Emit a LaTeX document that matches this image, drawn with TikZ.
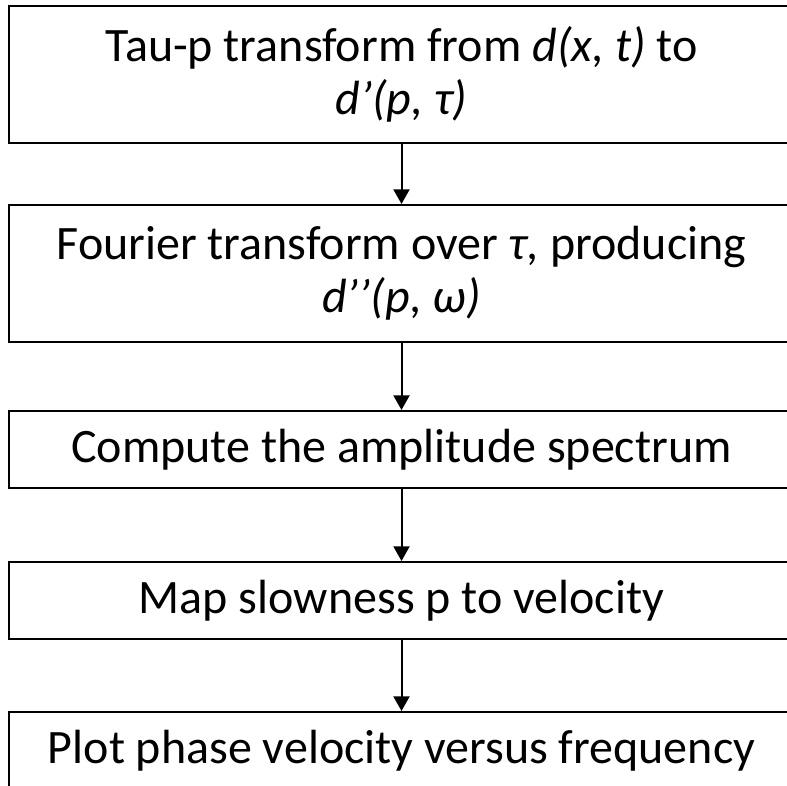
\documentclass[tikz,border=0pt]{standalone}
\usepackage{fontspec}
\setmainfont{Carlito}
\usetikzlibrary{arrows.meta, positioning}

\begin{document}
\begin{tikzpicture}[x=0.75pt, y=-0.75pt, line width=1.5pt]

    % Page frame
    \useasboundingbox (0,0) rectangle (787,785);

    % Nodes for the processing steps
    \node (taup) [draw, rectangle, align=center, minimum height=102.5pt, minimum width=588.75pt, font=\fontsize{36}{40}\selectfont] at (401.5,74.4) {Tau-p transform from \textit{d(x, t)} to\\ \textit{d’(p, τ)}};
    \node (fourier) [draw, rectangle, align=center, minimum height=102.75pt, minimum width=588.75pt, font=\fontsize{36}{40}\selectfont] at (401.5,273.5) {Fourier transform over \textit{τ,} producing\\ \textit{d’’(p, ω)}};
    \node (ampl) [draw, rectangle, align=center, minimum height=57.75pt, minimum width=588.75pt, font=\fontsize{36}{40}\selectfont] at (401.5,449.5) {Compute the amplitude spectrum};
    \node (slow) [draw, rectangle, align=center, minimum height=57.75pt, minimum width=588.75pt, font=\fontsize{36}{40}\selectfont] at (401.5,600.5) {Map slowness p to velocity};
    \node (plot) [draw, rectangle, align=center, minimum height=57.75pt, minimum width=588.75pt, font=\fontsize{36}{40}\selectfont, anchor=north] at (401.5,711) {Plot phase velocity versus frequency};

    % Arrows between the steps
    \draw[-{Triangle[width=12pt, length=11pt]}] (taup) -- (fourier);
    \draw[-{Triangle[width=12pt, length=11pt]}] (fourier) -- (ampl);
    \draw[-{Triangle[width=12pt, length=11pt]}] (ampl) -- (slow);
    \draw[-{Triangle[width=12pt, length=11pt]}] (slow) -- (plot);

\end{tikzpicture}
\end{document}
